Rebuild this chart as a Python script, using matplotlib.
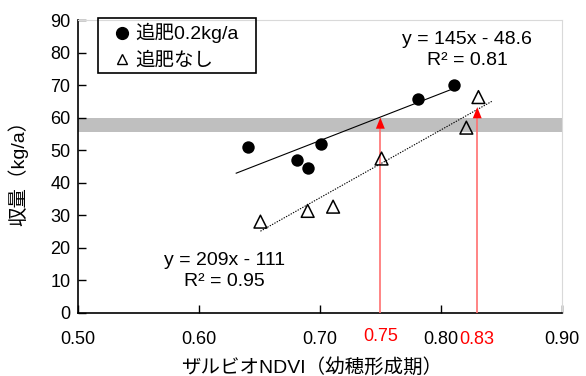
import matplotlib
matplotlib.use("Agg")
import matplotlib.pyplot as plt
from matplotlib.lines import Line2D
from matplotlib.patches import Rectangle
import numpy as np

plt.rcParams['font.family'] = ['Liberation Sans', 'Noto Sans CJK JP', 'DejaVu Sans']

# data
ndvi_fert = [0.641, 0.681, 0.690, 0.701, 0.781, 0.811]
yield_fert = [50.8, 47.0, 44.6, 51.9, 65.8, 70.1]
ndvi_nofert = [0.651, 0.690, 0.711, 0.751, 0.821, 0.831]
yield_nofert = [28.0, 31.3, 32.6, 47.4, 56.9, 66.3]

fit_fert = (145, -48.6)
fit_fert_range = [0.631, 0.811]
fit_nofert = (209, -111)
fit_nofert_range = [0.651, 0.842]

band = [55.5, 60]
arrow_x = [0.75, 0.83]
arrow_top = [60, 63.2]

xticks = [0.50, 0.60, 0.70, 0.80, 0.90]
xticklabels = ['0.50', '0.60', '0.70', '0.80', '0.90']
yticks = list(range(0, 91, 10))

label_fert = '追肥0.2kg/a'
label_nofert = '追肥なし'
eq_fert = 'y = 145x - 48.6\nR² = 0.81'
eq_nofert = 'y = 209x - 111\nR² = 0.95'

W, H = 586, 376
fig = plt.figure(figsize=(W / 100, H / 100), dpi=100)
ax = fig.add_axes([0.1323, 0.1684, 0.8268, 0.7784])

fs_tick = 13
fs = 14
ax.axhspan(band[0], band[1], color='#BFBFBF', lw=0, zorder=1)

xs = np.array(fit_fert_range)
ax.plot(xs, fit_fert[0] * xs + fit_fert[1], color='black', lw=0.8, zorder=2)
xs2 = np.array(fit_nofert_range)
ax.plot(xs2, fit_nofert[0] * xs2 + fit_nofert[1], color='black', lw=0.8,
        linestyle=(0, (1.2, 1.2)), zorder=2)

for xa, ya in zip(arrow_x, arrow_top):
    ax.vlines(xa, 0, ya - 2, color='#FF6F6F', lw=1.2, zorder=3)
    ax.annotate('', xy=(xa, ya), xytext=(xa, ya - 3.2),
                arrowprops=dict(arrowstyle='-|>,head_width=0.32,head_length=0.8',
                                color='red', lw=0.01, shrinkA=0, shrinkB=0),
                zorder=3)

ax.scatter(ndvi_fert, yield_fert, s=80, marker='o', color='black', zorder=4, linewidths=0)
ax.scatter(ndvi_nofert, yield_nofert, s=85, marker='^', facecolors='none',
           edgecolors='black', linewidths=1.1, zorder=4)

ax.text(0.8216, 80.8, eq_fert, ha='center', va='center', fontsize=fs,
        linespacing=1.35, zorder=5)
ax.text(0.621, 12.7, eq_nofert, ha='center', va='center', fontsize=fs,
        linespacing=1.3, zorder=5)

ax.set_xlim(0.50, 0.90)
ax.set_ylim(0, 90)
ax.set_xticks(xticks)
ax.set_xticklabels(xticklabels)
ax.set_yticks(yticks)
ax.tick_params(direction='in', length=5.5, width=1, labelsize=fs_tick, pad=5)
ax.tick_params(axis='x', pad=13)

for s in ['left', 'bottom']:
    ax.spines[s].set_color('black')
    ax.spines[s].set_linewidth(1.2)
for s in ['top', 'right']:
    ax.spines[s].set_color('#D9D9D9')
    ax.spines[s].set_linewidth(0.8)

trans = ax.get_xaxis_transform()
ax.text(arrow_x[0], -0.083, '0.75', color='red', ha='center', va='center',
        fontsize=fs_tick, transform=trans)
ax.text(arrow_x[1], -0.092, '0.83', color='red', ha='center', va='center',
        fontsize=fs_tick, transform=trans)

fig.text(18 / W, 1 - 168 / H, '収量（kg/a）', rotation=90, ha='center', va='center',
         fontsize=fs)
fig.text(312 / W, 1 - 367 / H, 'ザルビオNDVI（幼穂形成期）', ha='center', va='center',
         fontsize=fs)

# legend
handles = [Line2D([], [], marker='o', color='black', ls='none', markersize=8.5),
           Line2D([], [], marker='^', markerfacecolor='none', markeredgecolor='black',
                  ls='none', markersize=6.5, markeredgewidth=1)]
leg = fig.legend(handles, [label_fert, label_nofert], loc='center left',
                 bbox_to_anchor=(113 / W, 1 - 46.5 / H), borderaxespad=0,
                 fontsize=fs, frameon=False, handlelength=0.9,
                 handletextpad=0.25, borderpad=0, labelspacing=0.45)
fig.patches.append(Rectangle((98 / W, 1 - 73 / H), (255.5 - 98) / W, (73 - 18.3) / H,
                             transform=fig.transFigure, fill=False,
                             edgecolor='black', linewidth=1.2, zorder=6))

fig.savefig('out.png', dpi=100)
